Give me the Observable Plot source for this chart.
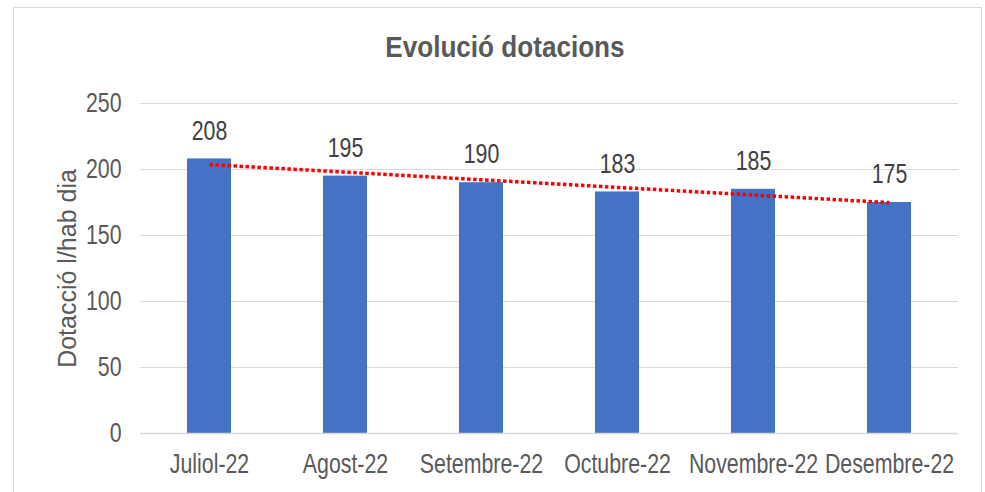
<!DOCTYPE html>
<html>
<head>
<meta charset="utf-8">
<script src="https://cdn.jsdelivr.net/npm/d3@7"></script>
<script src="https://cdn.jsdelivr.net/npm/@observablehq/plot@0.6"></script>
<style>
  html, body { margin: 0; padding: 0; background: #fff; }
  #wrap { position: relative; width: 985px; height: 492px; overflow: hidden; font-family: "Liberation Sans", Arial, sans-serif; }
  #border { position: absolute; left: 13px; top: 7px; width: 969px; height: 500px; border: 1px solid #d9d9d9; box-sizing: border-box; }
  #title { position: absolute; left: 12px; top: 0; width: 985px; height: 80px; text-align: center; line-height: 94px; font-size: 29px; font-weight: bold; color: #595959; }
  #title span { display: inline-block; transform: scaleX(0.9); }
  #chart { position: absolute; left: 0; top: 80px; }
</style>
</head>
<body>
<div id="wrap">
  <div id="border"></div>
  <div id="title"><span>Evolució dotacions</span></div>
  <div id="chart"></div>
</div>
<script>
const months = ["Juliol-22", "Agost-22", "Setembre-22", "Octubre-22", "Novembre-22", "Desembre-22"];
const values = [208, 195, 190, 183, 185, 175];
const yTicks = [0, 50, 100, 150, 200, 250];
const yLabel = "Dotacció l/hab dia";

const data = months.map((m, i) => ({month: m, value: values[i]}));

// linear trend (least squares) from the data
const n = values.length;
const mx = d3.mean(d3.range(n));
const my = d3.mean(values);
const slope = d3.sum(values, (v, i) => (i - mx) * (v - my)) / d3.sum(d3.range(n), i => (i - mx) ** 2);
const trend = months.map((m, i) => ({month: m, value: my + slope * (i - mx)}));

const chart = Plot.plot({
  width: 985,
  height: 412,
  marginLeft: 140,
  marginRight: 27,
  marginTop: 23,
  marginBottom: 59,
  style: {fontFamily: "'Liberation Sans', Arial, sans-serif", fontSize: "27px", color: "#595959", background: "transparent", overflow: "visible"},
  x: {domain: months, paddingInner: 0.68, paddingOuter: 0.34, label: null},
  y: {domain: [0, 250], label: null},
  marks: [
    Plot.ruleY(yTicks.filter(d => d > 0), {stroke: "#d9d9d9", strokeWidth: 1}),
    Plot.barY(data, {x: "month", y: "value", fill: "#4472C4"}),
    Plot.ruleY([0], {stroke: "#d9d9d9", strokeWidth: 1.5}),
    Plot.line(trend, {x: "month", y: "value", stroke: "#ff0000", strokeWidth: 3.5, strokeDasharray: "3.5 2.5", strokeLinecap: "butt"}),
    Plot.text(data, {x: "month", y: "value", text: d => String(d.value), dy: -28, fill: "#404040", fontSize: 27, lineAnchor: "middle"}),
    Plot.axisX({tickSize: 0, tickPadding: 20, fill: "#595959", fontSize: 27, label: null}),
    Plot.axisY({ticks: yTicks, tickSize: 0, tickPadding: 19, fill: "#595959", fontSize: 27, label: null}),
    Plot.text([yLabel], {frameAnchor: "left", rotate: -90, dx: -73, fill: "#595959", fontSize: 25, textAnchor: "middle", lineAnchor: "middle"})
  ]
});
// horizontally condense the texts, as in the reference
chart.querySelectorAll("text").forEach(t => {
  const tr = t.getAttribute("transform");
  if (tr && tr.includes("rotate")) return;
  if (tr) {
    t.setAttribute("transform", tr + " scale(0.79,1)");
  } else {
    const x = +(t.getAttribute("x") || 0), y = +(t.getAttribute("y") || 0);
    t.setAttribute("transform", `translate(${x},${y}) scale(0.79,1) translate(${-x},${-y})`);
  }
});
document.getElementById("chart").appendChild(chart);
</script>
</body>
</html>
